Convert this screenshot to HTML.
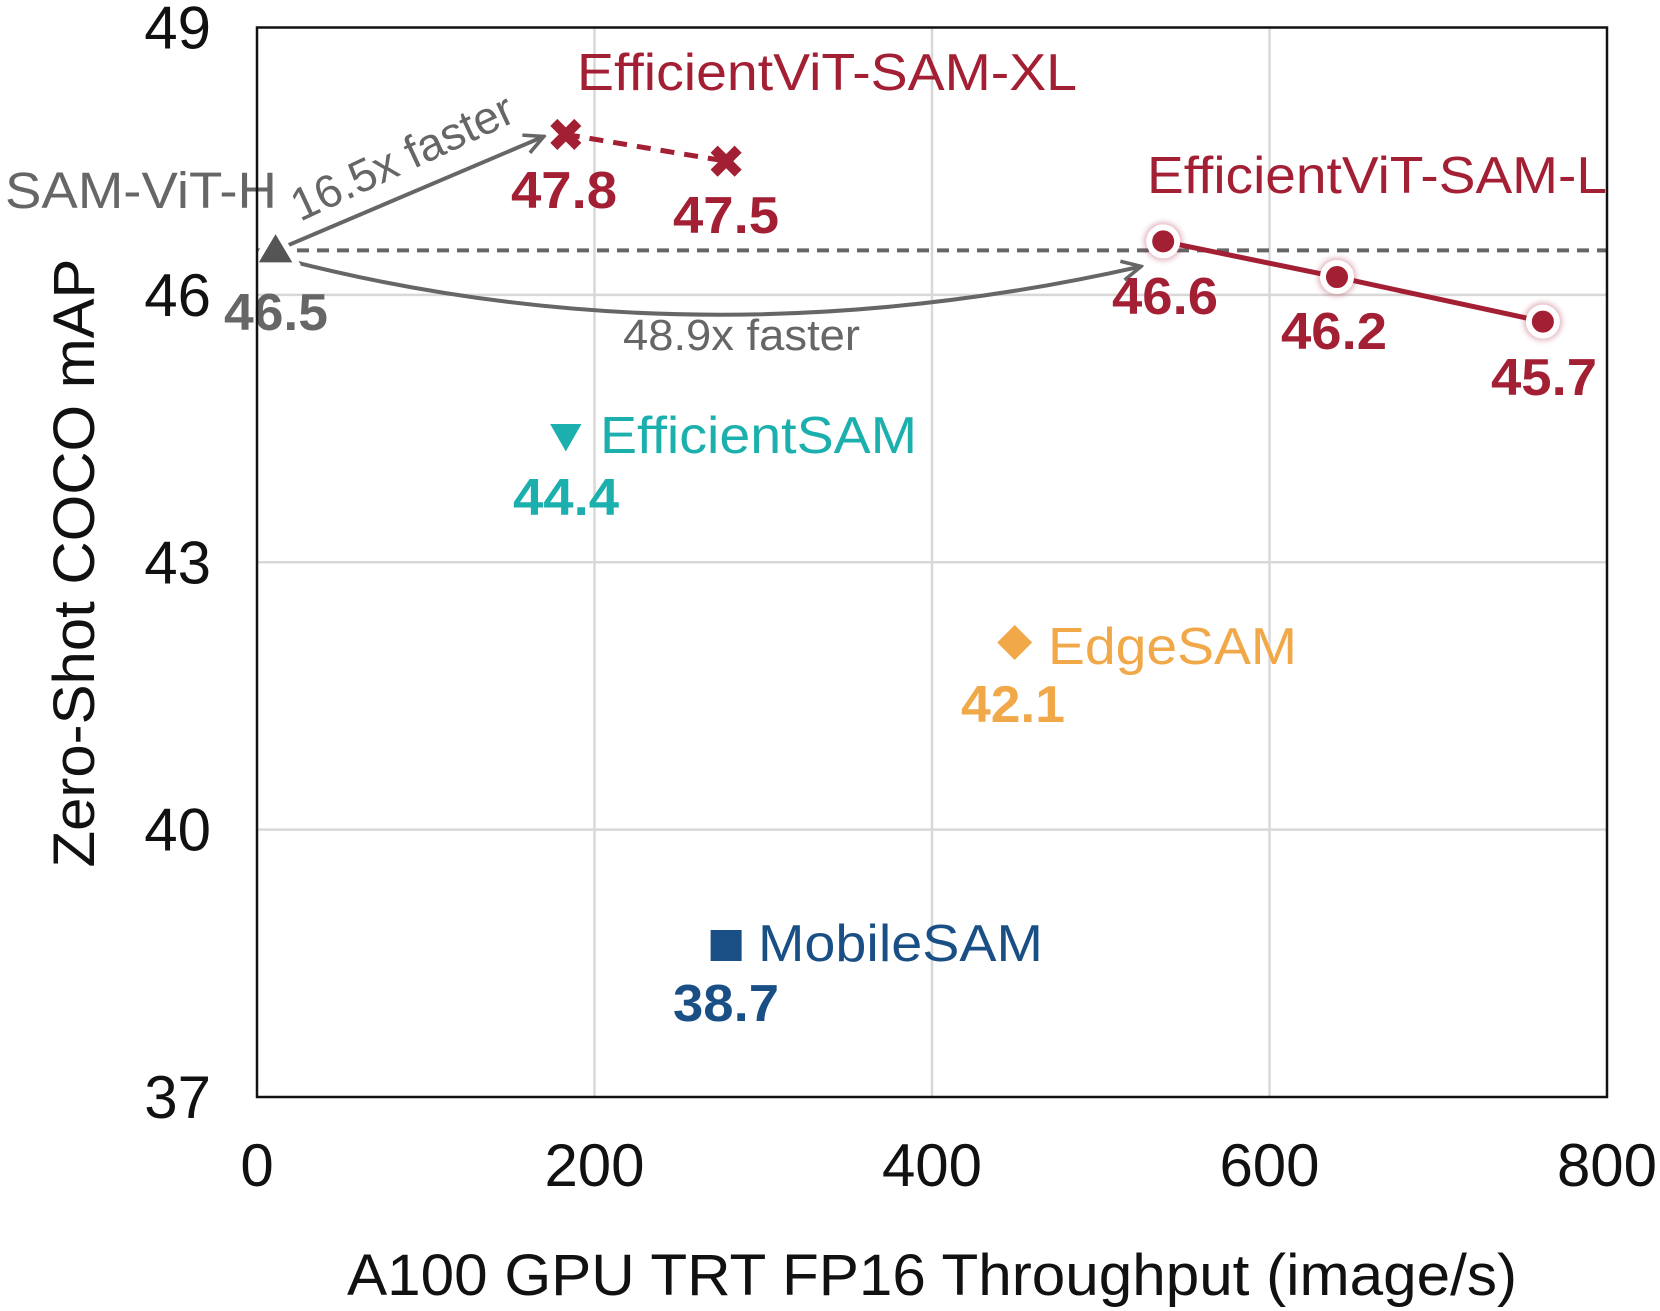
<!DOCTYPE html>
<html><head><meta charset="utf-8"><style>
html,body{margin:0;padding:0;background:#fff;}
svg{display:block;font-family:"Liberation Sans",sans-serif;}
.nar{font-family:"Liberation Sans Narrow","Liberation Sans",sans-serif;}
</style></head><body>
<svg id="chart" width="1660" height="1311" viewBox="0 0 1660 1311" xmlns="http://www.w3.org/2000/svg">
<g id="grid"></g>
<g id="ticks"></g>
<g id="marks"></g>
<rect x="257" y="27.5" width="1350" height="1069.5" fill="none" stroke="#111" stroke-width="2.5"/>
<text x="932" y="1295" font-size="58" text-anchor="middle" fill="#111" textLength="1170" lengthAdjust="spacingAndGlyphs">A100 GPU TRT FP16 Throughput (image/s)</text>
<text transform="translate(94,563) rotate(-90)" font-size="58" text-anchor="middle" fill="#111" textLength="609" lengthAdjust="spacingAndGlyphs">Zero-Shot COCO mAP</text>
</svg>
<script>
const xTicks=[0,200,400,600,800];
const yTicks=[37,40,43,46,49];
const samX=[11]; const samY=[46.5];
const xlX=[183,278]; const xlY=[47.8,47.5];
const lX=[537,640,762]; const lY=[46.6,46.2,45.7];
const effSamX=[183]; const effSamY=[44.4];
const edgeX=[449]; const edgeY=[42.1];
const mobX=[278]; const mobY=[38.7];

const NS="http://www.w3.org/2000/svg";
const X0=257,X1=1607,Y0=1097,Y1=27.5;
const sx=v=>X0+(v-0)/(800-0)*(X1-X0);
const sy=v=>Y0-(v-37)/(49-37)*(Y0-Y1);
function mk(tag,attrs,parent,text){const e=document.createElementNS(NS,tag);for(const k in attrs)e.setAttribute(k,attrs[k]);if(text!==undefined)e.textContent=text;parent.appendChild(e);return e;}
const grid=document.getElementById('grid'),ticks=document.getElementById('ticks'),marks=document.getElementById('marks');
const RED="#A31F34",GREY="#666",TEAL="#1BB0AE",ORANGE="#F0A848",NAVY="#1A4F86";

const defs=mk('defs',{},document.getElementById('chart'));
const f=mk('filter',{id:'glow',x:'-50%',y:'-50%',width:'200%',height:'200%'},defs);
mk('feGaussianBlur',{stdDeviation:'3'},f);
const am=mk('marker',{id:'arr',viewBox:'0 0 10 10',refX:'9',refY:'5',markerWidth:'6',markerHeight:'6',orient:'auto',markerUnits:'strokeWidth'},defs);
mk('path',{d:'M1,1 L9,5 L1,9',fill:'none',stroke:GREY,'stroke-width':'1.5'},am);

xTicks.forEach(v=>{
 if(v>0&&v<800){const l=mk('line',{x1:sx(v),x2:sx(v),y1:Y1,y2:Y0,stroke:'#d8d8d8','stroke-width':2.5},grid);
 
 }
 const t=mk('text',{x:sx(v),y:1186,'font-size':60,'text-anchor':'middle',fill:'#111'},ticks,String(v));
 
 
});
yTicks.forEach(v=>{
 if(v>37&&v<49){const l=mk('line',{x1:X0,x2:X1,y1:sy(v),y2:sy(v),stroke:'#d8d8d8','stroke-width':2.5},grid);
 
 }
 const t=mk('text',{x:211,y:sy(v)+21,'font-size':60,'text-anchor':'end',fill:'#111'},ticks,String(v));
 
 
});

const bl=mk('line',{x1:X0,x2:X1,y1:sy(samY[0]),y2:sy(samY[0]),stroke:GREY,'stroke-width':4,'stroke-dasharray':'12 8'},marks);



const a1=mk('path',{d:`M${sx(samX[0])+10},${sy(samY[0])-4} L${sx(xlX[0])-22},${sy(xlY[0])+2}`,stroke:GREY,'stroke-width':4,fill:'none','marker-end':'url(#arr)'},marks);


const p0x=sx(samX[0])+12,p0y=sy(samY[0])+10,p2x=sx(lX[0])-22,p2y=sy(lY[0])+25;
const a2=mk('path',{d:`M${p0x},${p0y} Q700,366 ${p2x},${p2y}`,stroke:GREY,'stroke-width':4,fill:'none','marker-end':'url(#arr)'},marks);



const xlPts=xlX.map((v,i)=>sx(v)+','+sy(xlY[i])).join(' ');
const xlLine=mk('polyline',{points:xlPts,stroke:RED,'stroke-width':5,fill:'none','stroke-dasharray':'14 10'},marks);


const lPts=lX.map((v,i)=>sx(v)+','+sy(lY[i])).join(' ');
const lLine=mk('polyline',{points:lPts,stroke:RED,'stroke-width':5,fill:'none'},marks);



samX.forEach((v,i)=>{const x=sx(v),y=sy(samY[i]);
 const g=mk('polygon',{points:`${x},${y-22} ${x-22},${y+15} ${x+22},${y+15}`,fill:'#555',stroke:'#fff','stroke-width':6,'stroke-linejoin':'round'},marks);
 
 });
xlX.forEach((v,i)=>{const x=sx(v),y=sy(xlY[i]);
 const g=mk('path',{d:`M${x-12},${y-12} L${x+12},${y+12} M${x+12},${y-12} L${x-12},${y+12}`,stroke:RED,'stroke-width':10},marks);
 
 });
lX.forEach((v,i)=>{const x=sx(v),y=sy(lY[i]);
 mk('circle',{cx:x,cy:y,r:19,fill:RED,opacity:0.35,filter:'url(#glow)'},marks);
 const g=mk('circle',{cx:x,cy:y,r:14,fill:RED,stroke:'#fff','stroke-width':6},marks);
 
 });
effSamX.forEach((v,i)=>{const x=sx(v),y=sy(effSamY[i]);
 const g=mk('polygon',{points:`${x-20},${y-16} ${x+20},${y-16} ${x},${y+19}`,fill:TEAL,stroke:'#fff','stroke-width':5,'stroke-linejoin':'round'},marks);
 
 });
edgeX.forEach((v,i)=>{const x=sx(v),y=sy(edgeY[i]);
 const g=mk('polygon',{points:`${x},${y-21} ${x+21},${y} ${x},${y+21} ${x-21},${y}`,fill:ORANGE,stroke:'#fff','stroke-width':5},marks);
 
 });
mobX.forEach((v,i)=>{const x=sx(v),y=sy(mobY[i]);
 const g=mk('rect',{x:x-18,y:y-18,width:36,height:36,fill:NAVY,stroke:'#fff','stroke-width':5},marks);
 
 });

function lab(name,txt,x,y,size,color,bold,w,cls){
 const a={x:x,y:y,'font-size':size,fill:color};
 if(bold)a['font-weight']='bold';
 if(w){a.textLength=w;a.lengthAdjust='spacingAndGlyphs';}
 if(cls)a['class']=cls;
 const t=mk('text',a,marks,txt);
 
 
 return t;}
lab('sam-vit-h-label','SAM-ViT-H',5,208,51,GREY,false,272);
lab('sam-value',String(samY[0]),224,330,52,GREY,true,104,'nar');
const t16=lab('speedup-16x-label','16.5x faster',0,0,46,GREY,false,240);
t16.setAttribute('transform','translate(300,222) rotate(-25)');
lab('speedup-48x-label','48.9x faster',623,350,44,GREY,false,237);
lab('xl-label','EfficientViT-SAM-XL',577,90,52,RED,false,500,'nar');
lab('xl-value-1',String(xlY[0]),511,208,52,RED,true,106,'nar');
lab('xl-value-2',String(xlY[1]),673,233,52,RED,true,106,'nar');
lab('l-label','EfficientViT-SAM-L',1147,193,52,RED,false,460,'nar');
lab('l-value-1',String(lY[0]),1112,314,52,RED,true,106,'nar');
lab('l-value-2',String(lY[1]),1281,349,52,RED,true,106,'nar');
lab('l-value-3',String(lY[2]),1491,395,52,RED,true,106,'nar');
lab('efficientsam-label','EfficientSAM',600,453,52,TEAL,false,317,'nar');
lab('efficientsam-value',String(effSamY[0]),513,515,52,TEAL,true,106,'nar');
lab('edgesam-label','EdgeSAM',1048,664,52,ORANGE,false,249,'nar');
lab('edgesam-value',String(edgeY[0]),961,722,52,ORANGE,true,104,'nar');
lab('mobilesam-label','MobileSAM',758,961,52,NAVY,false,285,'nar');
lab('mobilesam-value',String(mobY[0]),673,1021,52,NAVY,true,106,'nar');
</script>
</body></html>
